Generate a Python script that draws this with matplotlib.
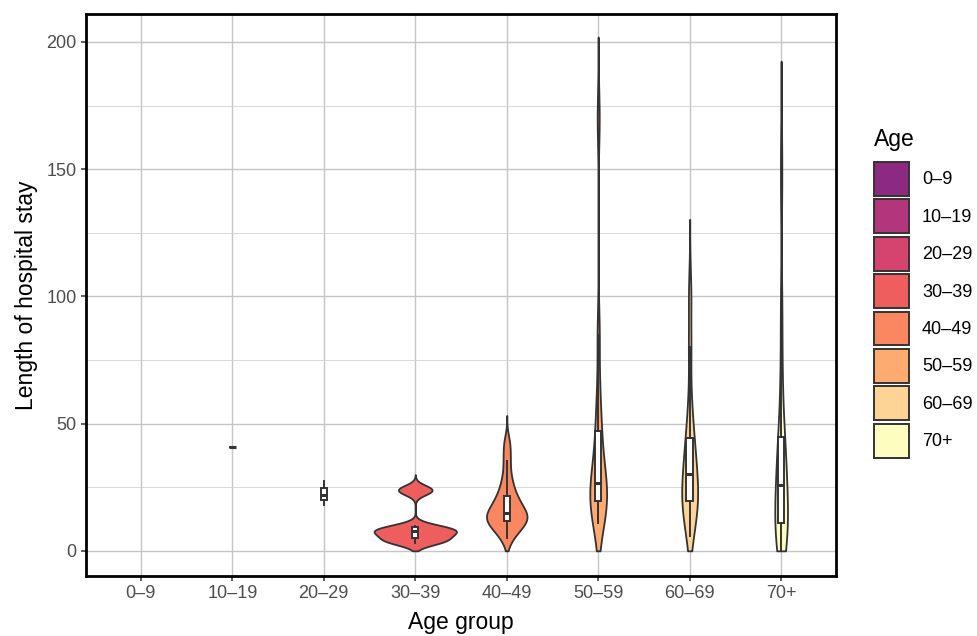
import numpy as np
import matplotlib
matplotlib.use('Agg')
import matplotlib.pyplot as plt
from matplotlib.patches import Patch

plt.rcParams['font.family'] = ['Liberation Sans', 'DejaVu Sans']

# age groups and their colours (magma-like palette)
age_groups = ['0–9', '10–19', '20–29', '30–39', '40–49', '50–59', '60–69', '70+']
group_colors = ['#8C2981', '#B3367C', '#D4446E', '#EF5E5E', '#FB8761', '#FEAB72', '#FED396', '#FCFDBF']

# length of hospital stay (days) per age group
stay_0_9 = []
stay_10_19 = [41]
stay_20_29 = [18.1, 21.9, 27.6]
stay_30_39 = [3.1, 3.6, 4.2, 4.4, 5.5, 6.8, 7.4, 7.7, 8, 8.5, 9.2, 9.8, 23, 24, 24.6]
stay_40_49 = [5.1, 8, 9.5, 11, 11.9, 12.8, 13.5, 14.2, 14.9, 16.5, 18.5, 20, 21.7,
              25, 29, 35.5, 42]
stay_50_59 = [10.9, 14, 17, 19, 20.5, 22.5, 24.5, 26.7, 30, 36, 44, 50, 62, 85, 170]
stay_60_69 = [6, 12, 16, 19, 20, 22, 25, 30.2, 33, 37, 42, 47, 58, 80, 101]
stay_70_plus = [0, 0, 1, 3, 5, 7, 9, 10.5, 11.3, 13, 15, 17, 19, 21, 23, 26,
                28, 30, 32, 35, 38, 41, 44, 45.8, 52, 60, 70, 85, 100, 140, 158]

stays = [stay_0_9, stay_10_19, stay_20_29, stay_30_39,
         stay_40_49, stay_50_59, stay_60_69, stay_70_plus]


# bandwidth like R's bw.nrd0
def nrd0(x):
    sd = x.std(ddof=1)
    q1, q3 = np.percentile(x, [25, 75])
    lo = min(sd, (q3 - q1) / 1.34)
    return 0.9 * lo * len(x) ** -0.2


# gaussian kde, tails extended 3 bandwidths and cut at 0
def density(x):
    x = np.asarray(x, float)
    bw = nrd0(x)
    grid = np.linspace(max(0, x.min() - 3 * bw), x.max() + 3 * bw, 512)
    d = np.exp(-0.5 * ((grid[:, None] - x[None, :]) / bw) ** 2).sum(axis=1)
    return grid, d / (len(x) * bw * np.sqrt(2 * np.pi))


fig = plt.figure(figsize=(9.77, 6.36), dpi=100)
ax = fig.add_axes([0.088, 0.0943, 0.7677, 0.8837])

positions = np.arange(1, len(age_groups) + 1)

# violins (need a few points for a density), scaled to equal area
dens = {}
for i, v in enumerate(stays):
    if len(v) >= 4:
        dens[i] = density(v)
max_d = max(d.max() for g, d in dens.values())
for i, (grid, d) in dens.items():
    hw = 0.45 * d / max_d
    ax.fill_betweenx(grid, positions[i] - hw, positions[i] + hw,
                     facecolor=group_colors[i], edgecolor='#333333',
                     linewidth=1.3, zorder=2)

# narrow boxplots on top
box_idx = [i for i, v in enumerate(stays) if len(v) > 0]
ax.boxplot([stays[i] for i in box_idx], positions=positions[box_idx], widths=0.07,
           whis=1.5, showfliers=False, showcaps=False, patch_artist=True,
           manage_ticks=False, zorder=3,
           boxprops=dict(facecolor='white', edgecolor='#333333', linewidth=1.4),
           whiskerprops=dict(color='#333333', linewidth=1.4),
           medianprops=dict(color='#333333', linewidth=2.2))

ax.set_xlim(0.4, 8.6)
ax.set_ylim(-9.9, 211)
ax.set_xticks(positions)
ax.set_xticklabels(age_groups)
ax.set_yticks([0, 50, 100, 150, 200])
ax.set_yticks([25, 75, 125, 175], minor=True)

ax.grid(which='major', color='#C6C6C6', linewidth=1.0, zorder=0)
ax.grid(which='minor', axis='y', color='#D2D2D2', linewidth=0.6, zorder=0)
ax.set_axisbelow(True)

ax.tick_params(which='major', length=3.6, width=1.1, color='#333333',
               labelcolor='#4D4D4D', labelsize=13, pad=3)
ax.tick_params(which='minor', length=0)
for s in ax.spines.values():
    s.set_linewidth(2.0)
    s.set_color('black')

ax.set_xlabel('Age group', fontsize=16.5, labelpad=6)
ax.set_ylabel('Length of hospital stay', fontsize=16.5, labelpad=6)

handles = [Patch(facecolor=c, edgecolor='#333333', linewidth=1.4) for c in group_colors]
leg = fig.legend(handles, age_groups, title='Age', loc='upper left',
                 bbox_to_anchor=(874 / 977, 1 - 128 / 636), frameon=False,
                 fontsize=13, title_fontsize=16.5, handlelength=1.95, handleheight=2.5,
                 labelspacing=0.2, handletextpad=0.7, borderpad=0, borderaxespad=0,
                 alignment='left')
leg._legend_box.sep = 8  # gap between title and keys

fig.savefig('out.png', dpi=100)
